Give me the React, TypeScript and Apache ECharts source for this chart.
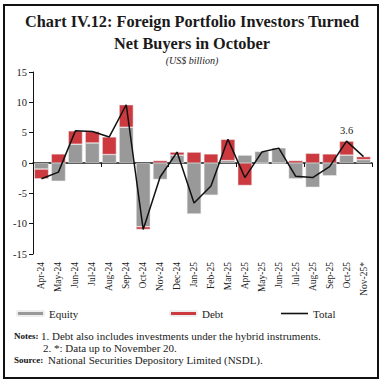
import React, { useEffect, useRef } from "react";
import * as echarts from "echarts";

const categories = ["Apr-24","May-24","Jun-24","Jul-24","Aug-24","Sep-24","Oct-24","Nov-24","Dec-24","Jan-25","Feb-25","Mar-25","Apr-25","May-25","Jun-25","Jul-25","Aug-25","Sep-25","Oct-25","Nov-25*"];
const equity = [-1.0,-3.0,3.1,3.3,1.4,5.9,-10.5,-2.7,1.3,-8.4,-5.3,0.4,1.3,1.9,2.5,-2.6,-4.0,-2.1,1.3,0.55];
const debt = [-1.6,1.5,2.2,1.9,2.9,3.7,-0.45,0.4,0.5,1.8,1.5,3.5,-3.7,-0.1,-0.05,0.4,1.6,1.5,2.3,0.5];
const total = [-2.6,-1.5,5.3,5.2,4.3,9.6,-10.95,-2.3,1.8,-6.6,-3.8,3.9,-2.4,1.8,2.45,-2.2,-2.4,-0.6,3.6,1.05];
const labelledMonth = "Oct-25";
const yTicks = { min: -15, max: 15, interval: 5 };

const FONT = "Liberation Serif";
const legendText = { fontFamily: FONT, fontSize: 11, color: "#222" };
const legendBase = { top: 308, padding: 0, orient: "horizontal", align: "left", itemWidth: 27, itemHeight: 5, itemGap: 4, textStyle: legendText };

export default function App() {
  const ref = useRef<HTMLDivElement>(null);
  useEffect(() => {
    const chart = echarts.init(ref.current!, null, { renderer: "svg" });
    const labelIdx = categories.indexOf(labelledMonth);
    chart.setOption({
      animation: false,
      textStyle: { fontFamily: FONT },
      grid: { left: 33, right: 13, top: 72, height: 182, containLabel: false },
      legend: [
        { ...legendBase, id: "lgEq", left: 16, data: [{ name: "Equity" }] },
        { ...legendBase, id: "lgDebt", left: 169, data: [{ name: "Debt" }] },
        { ...legendBase, id: "lgTot", left: 281, itemHeight: 1.6,
          data: [{ name: "Total", icon: "rect", itemStyle: { color: "#111" } }] },
      ],
      xAxis: [
        {
          type: "category", data: categories,
          axisLine: { onZero: true, lineStyle: { color: "#111", width: 1.5 } },
          axisTick: { show: true, length: 4, lineStyle: { color: "#111" } },
          axisLabel: { show: false },
        },
        {
          type: "category", data: categories, position: "bottom",
          axisLine: { show: false, onZero: false }, axisTick: { show: false },
          axisLabel: { rotate: 90, margin: 8, fontSize: 9.5, color: "#222", fontFamily: FONT, interval: 0 },
        },
      ],
      yAxis: {
        type: "value", min: yTicks.min, max: yTicks.max, interval: yTicks.interval,
        splitLine: { show: false },
        axisLine: { show: true, lineStyle: { color: "#111" } },
        axisTick: { show: true, length: 4, lineStyle: { color: "#111" } },
        axisLabel: { margin: 6, fontSize: 10.5, color: "#222", fontFamily: FONT },
      },
      series: [
        { name: "Equity", type: "bar", stack: "a", data: equity, barWidth: "84%",
          itemStyle: { color: "#999999", borderColor: "#eeeeee", borderWidth: 0.5 } },
        { name: "Debt", type: "bar", stack: "a", data: debt, barWidth: "84%",
          itemStyle: { color: "#cc3a40", borderColor: "#eeeeee", borderWidth: 0.5 } },
        { name: "Total", type: "line", data: total, symbol: "circle", symbolSize: 0.01, showSymbol: true,
          lineStyle: { color: "#111", width: 1.5 }, itemStyle: { color: "#111" },
          label: { show: true, position: "top", distance: 5, fontSize: 10.5, color: "#222", fontFamily: FONT,
            formatter: (p: any) => (p.dataIndex === labelIdx ? String(p.value) : "") } },
      ],
      graphic: [
        { type: "rect", shape: { x: 4, y: 5, width: 374, height: 373 }, style: { fill: "none", stroke: "#111", lineWidth: 2 }, silent: true },
        { type: "text", x: 192, y: 21, style: { text: "Chart IV.12: Foreign Portfolio Investors Turned", font: `bold 16.3px '${FONT}'`, fill: "#1a1a1a", textAlign: "center", textVerticalAlign: "middle" } },
        { type: "text", x: 192, y: 43, style: { text: "Net Buyers in October", font: `bold 16.3px '${FONT}'`, fill: "#1a1a1a", textAlign: "center", textVerticalAlign: "middle" } },
        { type: "text", x: 192, y: 60, style: { text: "(US$ billion)", font: `italic 10px '${FONT}'`, fill: "#222", textAlign: "center", textVerticalAlign: "middle" } },
        { type: "text", x: 14, y: 336, style: { text: "Notes:", font: `bold 9px '${FONT}'`, fill: "#111", textVerticalAlign: "middle" } },
        { type: "text", x: 41, y: 336, style: { text: "1. Debt also includes investments under the hybrid instruments.", font: `11px '${FONT}'`, fill: "#222", textVerticalAlign: "middle" } },
        { type: "text", x: 43, y: 348, style: { text: "2. *: Data up to November 20.", font: `11px '${FONT}'`, fill: "#222", textVerticalAlign: "middle" } },
        { type: "text", x: 14, y: 360, style: { text: "Source:", font: `bold 9px '${FONT}'`, fill: "#111", textVerticalAlign: "middle" } },
        { type: "text", x: 48, y: 360, style: { text: "National Securities Depository Limited (NSDL).", font: `11px '${FONT}'`, fill: "#222", textVerticalAlign: "middle" } },
      ],
    });
    return () => chart.dispose();
  }, []);
  return <div ref={ref} style={{ position: "fixed", left: 0, top: 0, width: 385, height: 384, background: "#fff" }} />;
}
